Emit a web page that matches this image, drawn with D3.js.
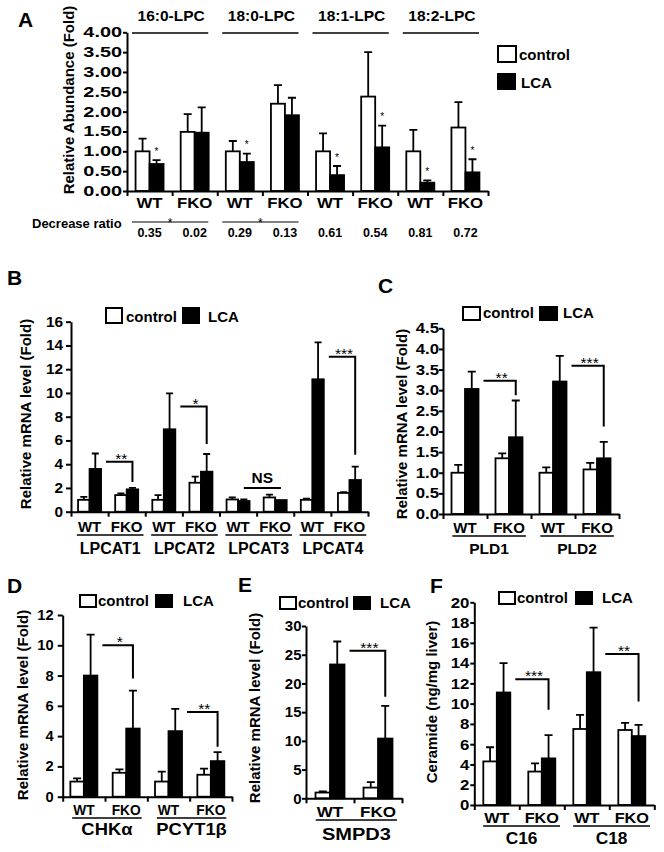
<!DOCTYPE html>
<html><head><meta charset="utf-8">
<script src="https://cdn.jsdelivr.net/npm/d3@7/dist/d3.min.js"></script>
<style>
html,body{margin:0;padding:0;background:#fff;}
svg{opacity:0.999;}
svg text{font-family:"Liberation Sans",Arial,Helvetica,sans-serif;font-weight:bold;fill:#000;}
</style></head><body>
<svg id="fig" width="664" height="852" viewBox="0 0 664 852"></svg>
<script>
// ===== Panel A: LPC species, relative abundance (fold) =====
const aSpecies    = ["16:0-LPC","18:0-LPC","18:1-LPC","18:2-LPC"];
const aGenotypes  = ["WT","FKO","WT","FKO","WT","FKO","WT","FKO"];
const aControl    = [1.00,1.49,1.00,2.20,1.00,2.38,1.00,1.60];
const aControlErr = [1.32,1.94,1.26,2.67,1.45,3.50,1.54,2.24];
const aLCA        = [0.68,1.47,0.73,1.91,0.40,1.10,0.21,0.47];
const aLCAErr     = [0.78,2.11,0.94,2.35,0.63,1.65,0.27,0.80];
const aStars      = ["*","","*","","*","*","*","*"];
const aRatio      = ["0.35","0.02","0.29","0.13","0.61","0.54","0.81","0.72"];
const aRatioSig   = ["*","*","",""];
const aTicks      = [0,0.5,1,1.5,2,2.5,3,3.5,4];

// ===== Panel B: LPCAT mRNA =====
const bGenes      = ["LPCAT1","LPCAT2","LPCAT3","LPCAT4"];
const bControl    = [1.0,1.40,1.0,2.44,1.03,1.20,1.0,1.58];
const bControlErr = [1.25,1.55,1.40,2.95,1.20,1.43,1.10,1.65];
const bLCA        = [3.60,1.88,6.94,3.37,0.90,0.98,11.15,2.67];
const bLCAErr     = [4.90,2.00,9.97,4.86,1.04,0.98,14.26,3.80];
const bTicks      = [0,2,4,6,8,10,12,14,16];
const bSigLabel   = ["**","*","NS","***"];
const bSigTop     = [4.2,8.85,2.0,13.05];
const bSigEnd     = [2.5,5.7,null,4.8];

// ===== Panel C: PLD mRNA =====
const cGenes      = ["PLD1","PLD2"];
const cControl    = [1.0,1.35,1.0,1.08];
const cControlErr = [1.19,1.47,1.13,1.24];
const cLCA        = [3.03,1.86,3.21,1.35];
const cLCAErr     = [3.45,2.75,3.83,1.75];
const cTicks      = [0,0.5,1,1.5,2,2.5,3,3.5,4,4.5];
const cSigLabel   = ["**","***"];
const cSigTop     = [3.23,3.59];
const cSigEnd     = [2.88,2.12];

// ===== Panel D: CHKα / PCYT1β mRNA =====
const dGenes      = ["CHKα","PCYT1β"];
const dControl    = [1.0,1.58,1.0,1.45];
const dControlErr = [1.21,1.80,1.65,1.85];
const dLCA        = [8.0,4.5,4.33,2.35];
const dLCAErr     = [10.7,7.0,5.8,2.95];
const dTicks      = [0,2,4,6,8,10,12];
const dSigLabel   = ["*","**"];
const dSigTop     = [10.0,5.6];
const dSigEnd     = [7.8,3.3];

// ===== Panel E: SMPD3 mRNA =====
const eGenes      = ["SMPD3"];
const eControl    = [1.0,1.86];
const eControlErr = [1.2,2.8];
const eLCA        = [23.3,10.4];
const eLCAErr     = [27.3,16.1];
const eTicks      = [0,5,10,15,20,25,30];
const eSigLabel   = ["***"];
const eSigTop     = [25.7];
const eSigEnd     = [17.7];

// ===== Panel F: Ceramide =====
const fSpecies    = ["C16","C18"];
const fControl    = [4.3,3.3,7.5,7.4];
const fControlErr = [5.7,4.1,8.9,8.1];
const fLCA        = [11.1,4.6,13.1,6.8];
const fLCAErr     = [14.0,6.9,17.5,7.9];
const fTicks      = [0,2,4,6,8,10,12,14,16,18,20];
const fSigLabel   = ["***","**"];
const fSigTop     = [12.4,14.9];
const fSigEnd     = [9.4,10.2];

const legendLabels = ["control","LCA"];

const svg = d3.select("#fig");
svg.append("rect").attr("width",664).attr("height",852).attr("fill","#fff");
const SW = 1.8;

// text helper with optional horizontal stretch (sx)
function txt(g, x, y, s, fs, anchor, weight, sx) {
  sx = sx || 1;
  return g.append("text").attr("transform", `translate(${x},${y}) scale(${sx},1)`).text(s)
    .style("font-size", fs + "px").attr("text-anchor", anchor || "start")
    .style("font-weight", weight || "bold");
}

function panel(o) {
  const g = svg.append("g");
  const n = o.control.length;
  const x = d3.scaleBand().domain(d3.range(n)).range([o.x0, o.x1]);
  const xl = d3.scaleLinear().domain([0, n]).range([o.x0, o.x1]);
  const y = d3.scaleLinear().domain([0, d3.max(o.ticks)]).range([o.y0, o.y1]);
  const cx = i => x(i) + x.bandwidth() / 2;
  const bw = o.barW, cap = o.cap;
  const series = [
    {vals: o.control, tops: o.controlErr, fill: "#fff", off: -bw},
    {vals: o.lca, tops: o.lcaErr, fill: "#000", off: 0}
  ];
  series.forEach(s => {
    g.append("g").selectAll("path").data(s.tops).join("path")
      .attr("d", (t, i) => {
        if (t <= s.vals[i]) return "";
        const xc = cx(i) + s.off + bw / 2;
        return `M${xc},${y(s.vals[i])}V${y(t)}M${xc - cap / 2},${y(t)}H${xc + cap / 2}`;
      })
      .attr("stroke", "#000").attr("stroke-width", SW).attr("fill", "none");
    g.append("g").selectAll("rect").data(s.vals).join("rect")
      .attr("x", (d, i) => cx(i) + s.off).attr("width", bw)
      .attr("y", d => y(d)).attr("height", d => y(0) - y(d))
      .attr("fill", s.fill).attr("stroke", "#000").attr("stroke-width", SW);
  });
  const ya = d3.axisLeft(y).tickValues(o.ticks).tickFormat(d3.format(o.fmt))
    .tickSize(o.tick).tickSizeOuter(0).tickPadding(o.gap - o.tick);
  const yg = g.append("g").attr("transform", `translate(${o.x0},0)`).call(ya);
  const xa = d3.axisBottom(xl).tickValues(d3.range(n + 1)).tickFormat("")
    .tickSize(5).tickSizeOuter(0);
  const xg = g.append("g").attr("transform", `translate(0,${o.y0})`).call(xa);
  [yg, xg].forEach(a => {
    a.attr("font-family", null).attr("font-size", null);
    a.select(".domain").attr("stroke-width", 2);
    a.selectAll(".tick line").attr("stroke-width", 2);
  });
  const tsx = o.tickSx || 1;
  yg.selectAll("text").style("font-size", o.tickFs + "px").attr("fill", "#000")
    .attr("x", -o.gap / tsx).attr("transform", `scale(${tsx},1)`);
  // y title
  g.append("text").attr("transform", `translate(${o.titleX},${o.titleY}) rotate(-90)`)
    .attr("text-anchor", "middle").style("font-size", "15px").text(o.title);
  return {g, x, y, cx, bw};
}

function legendRow(g, x, y, w, h, tx, lx, ltx, base) {
  g.append("rect").attr("x", x).attr("y", y).attr("width", w).attr("height", h)
    .attr("fill", "#fff").attr("stroke", "#000").attr("stroke-width", 2);
  txt(g, tx, base, legendLabels[0], 15);
  g.append("rect").attr("x", lx).attr("y", y).attr("width", w).attr("height", h)
    .attr("fill", "#000").attr("stroke", "#000").attr("stroke-width", 2);
  txt(g, ltx, base, legendLabels[1], 15);
}

function brackets(p, labels, tops, ends) {
  labels.forEach((lab, k) => {
    const i0 = 2 * k, i1 = 2 * k + 1;
    if (lab === "NS") {
      const xs = p.cx(i0) + p.bw / 2, xe = p.cx(i1) + p.bw / 2, yy = p.y(tops[k]);
      p.g.append("path").attr("d", `M${xs},${yy}H${xe}`).attr("stroke", "#000").attr("stroke-width", 2);
      txt(p.g, (xs + xe) / 2, yy - 5, lab, 15.5, "middle");
      return;
    }
    const xs = p.cx(i0) + p.bw + 5, xe = p.cx(i1) + p.bw / 2;
    const yt = p.y(tops[k]), ye = p.y(ends[k]);
    p.g.append("path").attr("d", `M${xs},${yt}H${xe}V${ye}`).attr("fill", "none")
      .attr("stroke", "#000").attr("stroke-width", 2);
    txt(p.g, (xs + xe) / 2 + 2, yt + 2, lab, 15.5, "middle", "normal");
  });
}

function groupLabels(p, genes, base, groupBase, fs, sx, gfs, gsx) {
  genes.forEach((gname, k) => {
    const t1 = txt(p.g, p.cx(2 * k), base, "WT", fs, "middle", "bold", sx);
    const t2 = txt(p.g, p.cx(2 * k + 1), base, "FKO", fs, "middle", "bold", sx);
    const l = p.cx(2 * k) - t1.node().getComputedTextLength() * sx / 2 - 1;
    const r = p.cx(2 * k + 1) + t2.node().getComputedTextLength() * sx / 2 + 1;
    p.g.append("path").attr("d", `M${l},${base + 3}H${r}`).attr("stroke", "#000").attr("stroke-width", 1.6);
    txt(p.g, (l + r) / 2, groupBase, gname, gfs, "middle", "bold", gsx);
  });
}

// ---------- Panel A ----------
const pA = panel({x0:127, x1:488, y0:191, y1:32.3, ticks:aTicks, fmt:".2f", tick:4, gap:5, tickFs:14, tickSx:1.42,
  control:aControl, controlErr:aControlErr, lca:aLCA, lcaErr:aLCAErr, barW:14, cap:8,
  title:"Relative Abundance (Fold)", titleX:74, titleY:100});
aGenotypes.forEach((gt, i) => txt(pA.g, pA.cx(i), 208, gt, 15, "middle", "bold", 1.12));
aStars.forEach((s, i) => { if (s) txt(pA.g, pA.cx(i) + 7, pA.y(aLCAErr[i]) - 5.5, s, 10, "middle", "normal"); });
aSpecies.forEach((sp, k) => {
  const l = pA.x(2 * k) + 5, r = pA.x(2 * k) + 2 * pA.x.bandwidth() - 9;
  pA.g.append("path").attr("d", `M${l},33H${r}`).attr("stroke", "#000").attr("stroke-width", 1.6);
  txt(pA.g, (l + r) / 2 + 1, 21, sp, 15.5, "middle");
  if (aRatioSig[k]) {
    pA.g.append("path").attr("d", `M${l},222H${r}`).attr("stroke", "#000").attr("stroke-width", 1);
    txt(pA.g, (l + r) / 2, 227, aRatioSig[k], 12, "middle", "normal");
  }
});
txt(pA.g, 32, 228, "Decrease ratio", 13);
aRatio.forEach((r, i) => txt(pA.g, pA.cx(i), 237, r, 12.5, "middle"));
// legend A
pA.g.append("rect").attr("x",498).attr("y",46).attr("width",18).attr("height",16).attr("fill","#fff").attr("stroke","#000").attr("stroke-width",2);
txt(pA.g, 519, 60, legendLabels[0], 15);
pA.g.append("rect").attr("x",498).attr("y",74).attr("width",17).attr("height",15).attr("fill","#000").attr("stroke","#000").attr("stroke-width",2);
txt(pA.g, 521, 88, legendLabels[1], 15);

// ---------- Panel B ----------
const pB = panel({x0:71, x1:368, y0:511.7, y1:321.7, ticks:bTicks, fmt:"d", tick:5, gap:8, tickFs:14, tickSx:1.1,
  control:bControl, controlErr:bControlErr, lca:bLCA, lcaErr:bLCAErr, barW:11.5, cap:7,
  title:"Relative mRNA level (Fold)", titleX:31, titleY:414});
legendRow(pB.g, 106, 308, 16, 15, 126, 183, 208, 322);
brackets(pB, bSigLabel, bSigTop, bSigEnd);
groupLabels(pB, bGenes, 532, 554, 15, 1, 16, 1);

// ---------- Panel C ----------
const pC = panel({x0:443, x1:619, y0:514, y1:328.3, ticks:cTicks, fmt:".1f", tick:4, gap:4, tickFs:14, tickSx:1.2,
  control:cControl, controlErr:cControlErr, lca:cLCA, lcaErr:cLCAErr, barW:13.5, cap:8,
  title:"Relative mRNA level (Fold)", titleX:407, titleY:424});
legendRow(pC.g, 463, 307, 17, 13, 483, 540, 563, 318);
brackets(pC, cSigLabel, cSigTop, cSigEnd);
groupLabels(pC, cGenes, 533, 554, 15, 1, 15.5, 1);

// ---------- Panel D ----------
const pD = panel({x0:62.7, x1:232, y0:796.7, y1:615, ticks:dTicks, fmt:"d", tick:5, gap:9, tickFs:14, tickSx:1.05,
  control:dControl, controlErr:dControlErr, lca:dLCA, lcaErr:dLCAErr, barW:13.5, cap:8,
  title:"Relative mRNA level (Fold)", titleX:27.5, titleY:705});
legendRow(pD.g, 80, 595, 16, 12, 98, 156, 183, 606);
brackets(pD, dSigLabel, dSigTop, dSigEnd);
groupLabels(pD, dGenes, 815, 835, 14.5, 0.95, 16, 1.15);

// ---------- Panel E ----------
const pE = panel({x0:306, x1:402, y0:798.3, y1:626, ticks:eTicks, fmt:"d", tick:4, gap:4.5, tickFs:15,
  control:eControl, controlErr:eControlErr, lca:eLCA, lcaErr:eLCAErr, barW:14.5, cap:8,
  title:"Relative mRNA level (Fold)", titleX:260, titleY:708});
legendRow(pE.g, 280, 597, 16, 12, 298, 354, 380, 608);
brackets(pE, eSigLabel, eSigTop, eSigEnd);
groupLabels(pE, eGenes, 817, 840, 15.5, 1.1, 16, 1.25);

// ---------- Panel F ----------
const pF = panel({x0:474.3, x1:654.3, y0:805, y1:602.3, ticks:fTicks, fmt:"d", tick:4, gap:5, tickFs:15, tickSx:1.12,
  control:fControl, controlErr:fControlErr, lca:fLCA, lcaErr:fLCAErr, barW:13.5, cap:8,
  title:"Ceramide (ng/mg liver)", titleX:437, titleY:702});
legendRow(pF.g, 499, 592, 16, 12, 517, 576, 602, 603);
brackets(pF, fSigLabel, fSigTop, fSigEnd);
groupLabels(pF, fSpecies, 823, 844, 15.5, 1.05, 16.5, 1.05);

// ---------- Panel letters ----------
[["A",18,27],["B",7,285],["C",378,293],["D",7,593],["E",238,592],["F",430,593]]
  .forEach(([l, x, y]) => txt(svg, x, y, l, 21));
</script>
</body></html>
